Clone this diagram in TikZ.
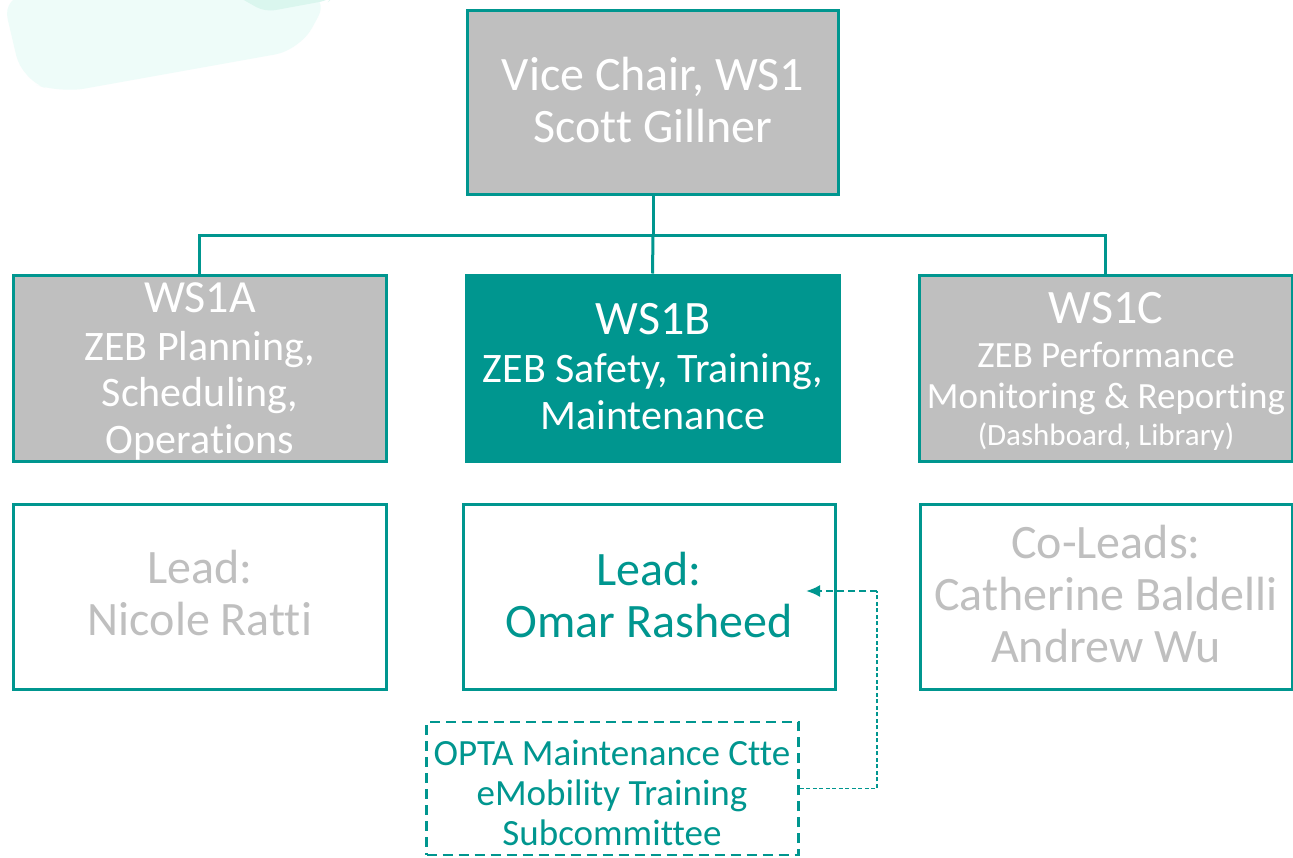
\documentclass[tikz,border=0pt]{standalone}
\usepackage{fontspec}
\setmainfont{Carlito}[Ligatures=NoCommon]
\usetikzlibrary{arrows.meta}
\definecolor{teal1}{RGB}{0,150,143}
\definecolor{grayfill}{RGB}{191,191,191}
\definecolor{graytext}{RGB}{191,191,191}
\definecolor{mint1}{RGB}{238,252,249}
\definecolor{mint2}{RGB}{218,246,238}
\tikzset{
  box/.style={draw=teal1, line width=3pt, rectangle, inner sep=0pt, minimum width=372pt, minimum height=185pt},
  graybox/.style={box, fill=grayfill},
  tealbox/.style={box, fill=teal1},
  leadbox/.style={box, fill=white},
  dashbox/.style={draw=teal1, line width=2.5pt, dash pattern=on 10pt off 6pt, fill=white, inner sep=0pt, minimum width=372pt, minimum height=133pt},
  conn/.style={draw=teal1, line width=3pt},
  dconn/.style={draw=teal1, line width=1.3pt, dash pattern=on 4pt off 2.5pt},
  dconnb/.style={draw=teal1, line width=2.2pt, dash pattern=on 7pt off 4pt},
  txt/.style={inner sep=0pt, anchor=base},
  fs/.style={font=\fontsize{#1}{#1}\selectfont},
  wt/.style={txt, text=white},
  gt/.style={txt, text=graytext},
  tt/.style={txt, text=teal1},
}
\begin{document}
\begin{tikzpicture}[x=1pt,y=-1pt]
\useasboundingbox (0,0) rectangle (1293,857);
\fill[white] (0,0) rectangle (1293,857);
% faint background shape
\fill[mint1, rounded corners=25pt] (2,-5) -- (22,80) -- (60,93) -- (300,50) -- (330,-5) -- cycle;
\fill[mint2, rounded corners=10pt] (235,-5) -- (265,12) -- (330,0) -- (335,-5) -- cycle;

% boxes
\node[graybox, minimum width=371pt, minimum height=184pt] (top) at (653,102) {};
\node[graybox, minimum width=373pt, minimum height=186pt] (ws1a) at (199.5,368) {};
\node[tealbox, minimum width=373pt, minimum height=186pt] (ws1b) at (652.5,368) {};
\node[graybox, minimum width=373pt, minimum height=186pt] (ws1c) at (1105.5,368) {};
\node[leadbox, minimum width=373pt, minimum height=185pt] (leada) at (199.5,596.5) {};
\node[leadbox, minimum width=372pt, minimum height=185pt] (leadb) at (649,596.5) {};
\node[leadbox, minimum width=372pt, minimum height=185pt] (leadc) at (1106,596.5) {};
\node[dashbox] (sub) at (612.5,788.5) {};

% connectors
\coordinate (bus) at (653,235);
\draw[conn] (top.south) -- (bus);
\draw[conn] (ws1a.north) |- (bus) -| (ws1c.north);
\draw[conn] (ws1b.north) -- (bus);
\coordinate (corner) at (877,788.5);
\coordinate (upper) at (877,591);
\coordinate (tip) at (806,591);
\draw[dconn] (sub.east) -- (corner) -- (upper);
\draw[dconnb, -{Latex[length=14pt,width=12pt]}] (upper) -- (tip);

% texts
\node[wt, fs=48] (t1) at (653,90) {Vice Chair, WS1};
\node[wt, fs=48] (t2) at (653,142) {Scott Gillner};

\node[wt, fs=46] (a1) at (200,312) {WS1A};
\node[wt, fs=42] (a2) at (200,360) {ZEB Planning,};
\node[wt, fs=42] (a3) at (200,406) {Scheduling,};
\node[wt, fs=42] (a4) at (200,453) {Operations};

\node[wt, fs=48] (b1) at (653,334) {WS1B};
\node[wt, fs=42] (b2) at (653,382) {ZEB Safety, Training,};
\node[wt, fs=42] (b3) at (653,429) {Maintenance};

\node[wt, fs=48] (c1) at (1106,323) {WS1C};
\node[wt, fs=37] (c2) at (1106,367) {ZEB Performance};
\node[wt, fs=37] (c3) at (1106,408) {Monitoring \& Reporting};
\node[wt, fs=31] (c4) at (1106,445) {(Dashboard, Library)};

\node[gt, fs=48] (la1) at (200,583) {Lead:};
\node[gt, fs=48] (la2) at (200,635) {Nicole Ratti};

\node[tt, fs=48] (lb1) at (649,585) {Lead:};
\node[tt, fs=48] (lb2) at (649,637) {Omar Rasheed};

\node[gt, fs=48] (lc1) at (1106,558) {Co-Leads:};
\node[gt, fs=48] (lc2) at (1106,610) {Catherine Baldelli};
\node[gt, fs=48] (lc3) at (1106,662) {Andrew Wu};

\node[tt, fs=37] (s1) at (612,765) {OPTA Maintenance Ctte};
\node[tt, fs=37] (s2) at (612,805) {eMobility Training};
\node[tt, fs=37] (s3) at (612,845) {Subcommittee};
\end{tikzpicture}
\end{document}
